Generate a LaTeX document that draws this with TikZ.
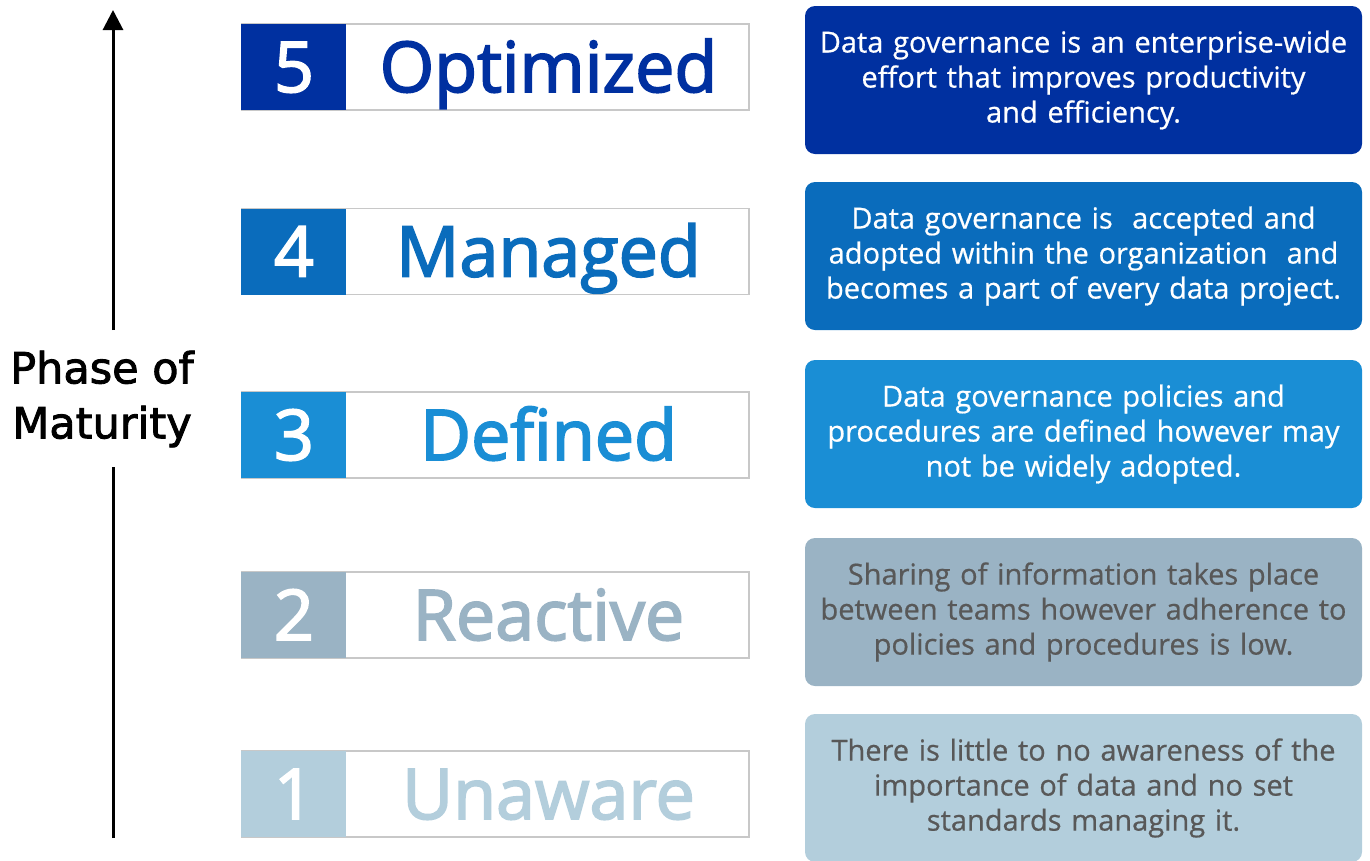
\documentclass[tikz,border=0pt]{standalone}
\usepackage{fontspec}
\setmainfont{Open Sans}
\newfontfamily\lblfont[FakeBold=2]{DejaVu Sans}
\newfontfamily\titlefont[FakeBold=2.5]{Open Sans}
\newfontfamily\descfont[FakeBold=0.6]{Open Sans}
\usetikzlibrary{arrows.meta}
\definecolor{cfive}{RGB}{0,48,160}
\definecolor{cfour}{RGB}{10,108,188}
\definecolor{cthree}{RGB}{26,142,213}
\definecolor{ctwo}{RGB}{154,179,196}
\definecolor{cone}{RGB}{179,206,220}
\definecolor{framegrey}{RGB}{200,200,200}
\definecolor{darktext}{RGB}{88,88,88}
\begin{document}
\begin{tikzpicture}[x=1pt,y=-1pt,
  frame/.style={draw=framegrey, line width=1.5pt, fill=white, inner sep=0pt,
    minimum width=507pt, minimum height=86pt},
  numbox/.style={inner sep=0pt, minimum width=105pt, minimum height=86pt,
    text=white, font=\titlefont\fontsize{70}{84}\selectfont, text height=50pt, text depth=0pt},
  title/.style={inner sep=0pt, font=\titlefont\fontsize{70}{84}\selectfont, text height=50pt, text depth=0pt},
  desc/.style={rounded corners=10pt, minimum width=557pt, minimum height=148pt,
    inner sep=0pt, align=center, text width=550pt, font=\descfont\fontsize{29}{35}\selectfont},
  axisline/.style={line width=3pt, black}
]
\useasboundingbox (0,0) rectangle (1370,860);

% axis
\coordinate (atop) at (113,10);
\coordinate (agap1) at (113,330);
\coordinate (agap2) at (113,467);
\coordinate (abot) at (113,838);
\node[inner sep=0pt, align=center, font=\lblfont\fontsize{43}{55}\selectfont] (lbl) at (102,399) {Phase of\\Maturity};
\draw[axisline] (abot) -- (agap2);
\draw[axisline, -{Triangle[length=20pt,width=20pt]}] (agap1) -- (atop);

% rows
\foreach \n/\y/\col/\name in {5/67/cfive/Optimized, 4/251.5/cfour/Managed, 3/435/cthree/Defined, 2/615/ctwo/Reactive, 1/794/cone/Unaware}{
  \node[frame] (row\n) at (495.5,\y) {};
  \node[numbox, fill=\col, anchor=west] (num\n) at (row\n.west) {\n};
  \node[title, text=\col] (title\n) at (548.5,\y) {\name};
}

% descriptions
\node[desc, fill=cfive, text=white] (d5) at (1083.5,80) {\raisebox{-2pt}{}Data governance is an enterprise-wide\\effort that improves productivity\\and efficiency.};
\node[desc, fill=cfour, text=white] (d4) at (1083.5,256) {Data governance is \ accepted and\\adopted within the organization \ and\\becomes a part of every data project.};
\node[desc, fill=cthree, text=white] (d3) at (1083.5,434) {Data governance policies and\\procedures are defined however may\\not be widely adopted.};
\node[desc, fill=ctwo, text=darktext] (d2) at (1083.5,612) {Sharing of information takes place\\between teams however adherence to\\policies and procedures is low.};
\node[desc, fill=cone, text=darktext] (d1) at (1083.5,788) {There is little to no awareness of the\\importance of data and no set\\standards managing it.};
\end{tikzpicture}
\end{document}
